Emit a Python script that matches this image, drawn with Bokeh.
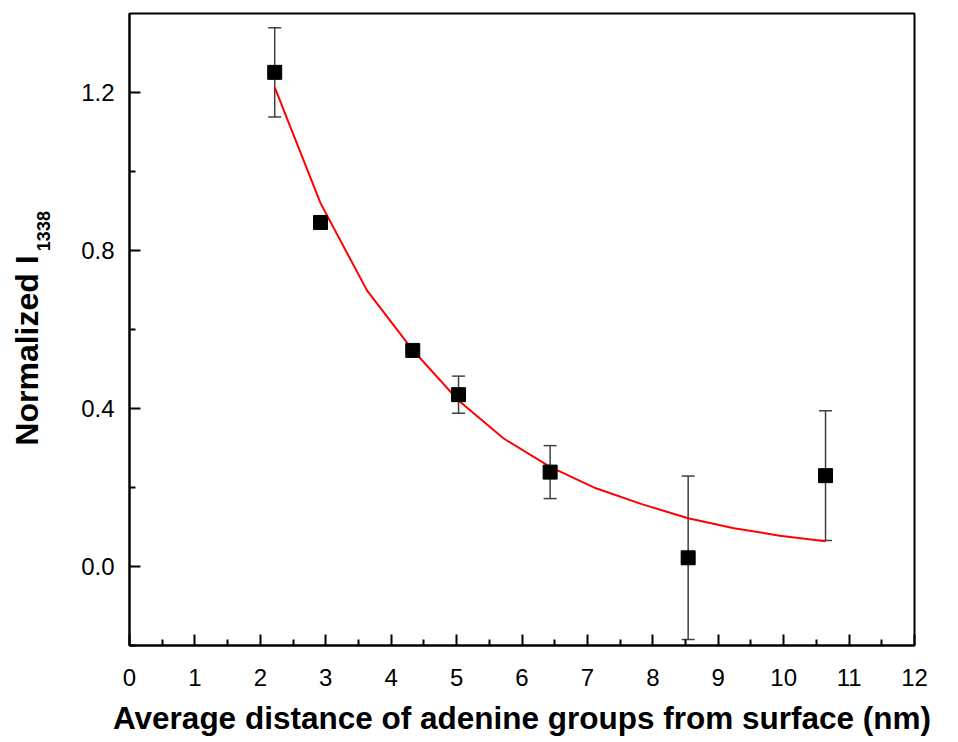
import math
from bokeh.plotting import figure
from bokeh.layouts import row
from bokeh.models import ColumnDataSource, Whisker, TeeHead, Range1d, FixedTicker
from bokeh.core.properties import value
from bokeh.embed import file_html
from bokeh.resources import INLINE

# measured points
dist_nm = [2.22, 2.92, 4.33, 5.03, 6.43, 8.54, 10.64]
norm_i = [1.251, 0.871, 0.547, 0.435, 0.239, 0.022, 0.230]
err = [0.113, 0.0, 0.0, 0.047, 0.067, 0.207, 0.164]

# exponential fit curve
fit_x = [2.22, 2.92, 3.63, 4.33, 5.03, 5.72, 6.43, 7.13, 7.83, 8.54, 9.24, 9.94, 10.64]
fit_y = [1.213, 0.920, 0.699, 0.548, 0.420, 0.324, 0.252, 0.198, 0.158, 0.122, 0.097, 0.078, 0.064]

x_ticks = list(range(0, 13))
y_ticks = [0.0, 0.4, 0.8, 1.2]

x_title = "Average distance of adenine groups from surface (nm)"
y_title = "Normalized I"
y_title_sub = "1338"

FONT = "Liberation Sans"
H = 742
LW = 60

# narrow strip holding the rotated y title (with its subscript)
t = figure(width=LW, height=H, output_backend="svg", toolbar_location=None,
           x_range=Range1d(0, LW), y_range=Range1d(0, H),
           min_border_left=0, min_border_right=0, min_border_top=0, min_border_bottom=0)
t.axis.visible = False
t.grid.visible = False
t.outline_line_color = None
t.text(x=[26], y=[458], text=[y_title], angle=math.pi / 2,
       text_align="right", text_baseline="alphabetic",
       text_font=value(FONT), text_font_style="bold", text_font_size="32px", text_color="black")
t.text(x=[43], y=[463], text=[y_title_sub], angle=math.pi / 2,
       text_align="left", text_baseline="alphabetic",
       text_font=value(FONT), text_font_style="bold", text_font_size="18px", text_color="black")

p = figure(width=950 - LW, height=H, output_backend="svg", toolbar_location=None,
           x_range=Range1d(0, 12), y_range=Range1d(-0.2, 1.4),
           min_border_left=129 - LW, min_border_right=36, min_border_top=13, min_border_bottom=97)
p.grid.visible = False
p.outline_line_color = "black"
p.outline_line_width = 2
p.background_fill_color = "white"
p.border_fill_color = "white"

# error bars
eb_x = [x for x, e in zip(dist_nm, err) if e > 0]
eb_lo = [y - e for y, e in zip(norm_i, err) if e > 0]
eb_hi = [y + e for y, e in zip(norm_i, err) if e > 0]
esrc = ColumnDataSource(dict(x=eb_x, lo=eb_lo, hi=eb_hi))
wh = Whisker(source=esrc, base="x", lower="lo", upper="hi", line_color="#404040", line_width=1.5,
             upper_head=TeeHead(size=13, line_color="#404040", line_width=1.5),
             lower_head=TeeHead(size=13, line_color="#404040", line_width=1.5))
p.add_layout(wh)

p.line(fit_x, fit_y, line_color="red", line_width=2)
p.scatter(dist_nm, norm_i, marker="square", size=14, fill_color="black", line_color="black")

xa = p.xaxis[0]
xa.ticker = FixedTicker(ticks=x_ticks, minor_ticks=[i + 0.5 for i in range(12)])
ya = p.yaxis[0]
ya.ticker = FixedTicker(ticks=y_ticks, minor_ticks=[-0.2, 0.2, 0.6, 1.0])

for ax in (xa, ya):
    ax.axis_line_width = 2
    ax.axis_line_color = "black"
    ax.major_tick_in = 11
    ax.major_tick_out = 0
    ax.minor_tick_in = 6
    ax.minor_tick_out = 0
    ax.major_tick_line_width = 2
    ax.minor_tick_line_width = 2
    ax.major_label_text_font = FONT
    ax.major_label_text_font_size = "24px"
    ax.major_label_text_color = "black"
    ax.axis_label_text_font = FONT
    ax.axis_label_text_font_style = "bold"
    ax.axis_label_text_color = "black"

xa.major_label_standoff = 23
xa.axis_label_standoff = 11
xa.axis_label_text_font_size = "31.5px"
xa.axis_label = x_title
ya.major_label_standoff = 15
ya.major_label_overrides = {0.0: "0.0", 0.4: "0.4", 0.8: "0.8", 1.2: "1.2"}

layout = row(t, p)
open("out.html", "w").write(file_html(layout, INLINE))
